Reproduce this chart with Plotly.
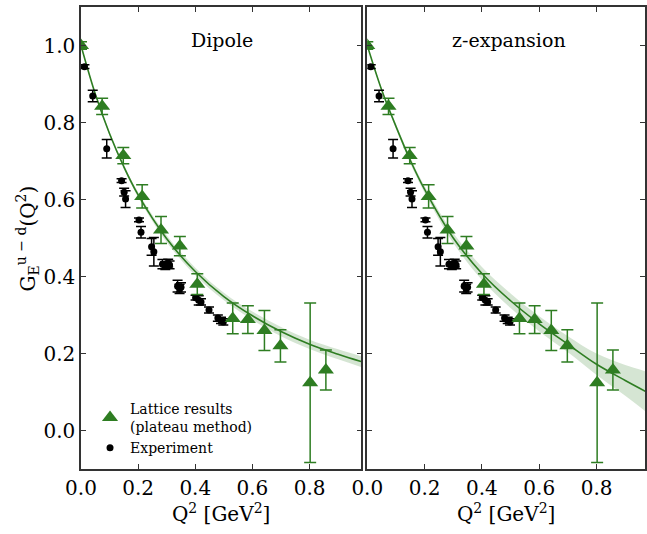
import plotly.graph_objects as go

# ---------------- data ----------------
# Lattice results (plateau method)
lat_q2 = [0.0, 0.074, 0.148, 0.214, 0.280, 0.346, 0.407, 0.531, 0.584, 0.642, 0.698, 0.802, 0.857]
lat_g = [1.000, 0.842, 0.714, 0.608, 0.521, 0.479, 0.380, 0.291, 0.288, 0.260, 0.220, 0.124, 0.157]
lat_err = [0.010, 0.021, 0.021, 0.030, 0.035, 0.025, 0.027, 0.040, 0.036, 0.052, 0.042, 0.207, 0.052]

# Experiment
exp_q2 = [0.012, 0.041, 0.090, 0.142, 0.151, 0.156, 0.203, 0.210, 0.247, 0.255,
          0.285, 0.295, 0.305, 0.310, 0.338, 0.345, 0.350, 0.401, 0.412, 0.420,
          0.448, 0.479, 0.490, 0.498]
exp_g = [0.945, 0.869, 0.732, 0.649, 0.619, 0.601, 0.547, 0.515, 0.477, 0.464,
         0.432, 0.428, 0.435, 0.430, 0.375, 0.368, 0.372, 0.345, 0.338, 0.334,
         0.313, 0.292, 0.286, 0.282]
exp_err = [0.005, 0.015, 0.024, 0.005, 0.010, 0.022, 0.005, 0.015, 0.022, 0.037,
           0.012, 0.010, 0.010, 0.010, 0.015, 0.012, 0.012, 0.006, 0.012, 0.008,
           0.008, 0.008, 0.008, 0.008]

# Dipole fit curve and band half-width
dip_q2 = [0.0, 0.05, 0.10, 0.15, 0.20, 0.30, 0.40, 0.50, 0.60, 0.70, 0.80, 0.90, 0.98]
dip_g = [1.000, 0.874, 0.771, 0.685, 0.612, 0.498, 0.413, 0.348, 0.298, 0.257, 0.224, 0.198, 0.179]
dip_band = [0.000, 0.003, 0.005, 0.006, 0.007, 0.009, 0.010, 0.010, 0.011, 0.012, 0.012, 0.013, 0.014]

# z-expansion fit curve and band half-width
zex_q2 = [0.0, 0.05, 0.10, 0.15, 0.20, 0.30, 0.40, 0.50, 0.60, 0.70, 0.80, 0.90, 0.97]
zex_g = [1.000, 0.885, 0.790, 0.702, 0.626, 0.500, 0.408, 0.337, 0.277, 0.224, 0.172, 0.130, 0.102]
zex_band = [0.000, 0.004, 0.006, 0.008, 0.009, 0.013, 0.017, 0.019, 0.020, 0.021, 0.028, 0.040, 0.052]

y_ticks = [0.0, 0.2, 0.4, 0.6, 0.8, 1.0]
x_ticks = [0.0, 0.2, 0.4, 0.6, 0.8]
panel_titles = ["Dipole", "z-expansion"]

# ---------------- style ----------------
GREEN = "#2e7d22"
BAND = "rgba(46,125,34,0.2)"
AXC = "#333333"
FONT = "DejaVu Serif"

fig = go.Figure()

panels = [
    ("x", "y", dip_q2, dip_g, dip_band, True),
    ("x2", "y2", zex_q2, zex_g, zex_band, False),
]

for xa, ya, cq, cg, cb, show_leg in panels:
    up = [g + b for g, b in zip(cg, cb)]
    lo = [g - b for g, b in zip(cg, cb)]
    fig.add_trace(go.Scatter(x=cq, y=up, xaxis=xa, yaxis=ya, mode="lines",
                             line=dict(width=0, shape="spline"), showlegend=False,
                             hoverinfo="skip"))
    fig.add_trace(go.Scatter(x=cq, y=lo, xaxis=xa, yaxis=ya, mode="lines",
                             line=dict(width=0, shape="spline"), fill="tonexty",
                             fillcolor=BAND, showlegend=False, hoverinfo="skip"))
    fig.add_trace(go.Scatter(x=cq, y=cg, xaxis=xa, yaxis=ya, mode="lines",
                             line=dict(color=GREEN, width=1.6, shape="spline"),
                             showlegend=False))
    fig.add_trace(go.Scatter(
        x=exp_q2, y=exp_g, xaxis=xa, yaxis=ya, mode="markers",
        name="Experiment", showlegend=show_leg, legendrank=2,
        marker=dict(symbol="circle", size=7, color="black"),
        error_y=dict(type="data", array=exp_err, color="black", thickness=1.5, width=5)))
    fig.add_trace(go.Scatter(
        x=lat_q2, y=lat_g, xaxis=xa, yaxis=ya, mode="markers",
        name="Lattice results<br>(plateau method)", showlegend=show_leg, legendrank=1,
        marker=dict(symbol="triangle-up", size=14, color=GREEN),
        error_y=dict(type="data", array=lat_err, color=GREEN, thickness=1.5, width=6)))

axis_common = dict(showline=True, linecolor=AXC, linewidth=1.5, ticks="inside",
                   ticklen=5, tickwidth=1, tickcolor=AXC, showgrid=False,
                   zeroline=False, tickfont=dict(family=FONT, size=20, color="black"))

L_DOM = [0.0, 0.497]
R_DOM = [0.5076, 1.0]

fig.update_layout(
    width=647, height=534,
    margin=dict(l=81, r=0, t=7, b=65),
    plot_bgcolor="white", paper_bgcolor="white",
    font=dict(family=FONT, color="black"),
    xaxis=dict(domain=L_DOM, range=[0, 0.981], tickvals=x_ticks, tickformat=".1f",
               mirror="ticks", anchor="y",
               title=dict(text="Q<sup>2</sup> [GeV<sup>2</sup>]", standoff=8,
                          font=dict(family=FONT, size=20)),
               **axis_common),
    xaxis2=dict(domain=R_DOM, range=[0, 0.969], tickvals=x_ticks, tickformat=".1f",
                mirror="ticks", anchor="y2",
                title=dict(text="Q<sup>2</sup> [GeV<sup>2</sup>]", standoff=8,
                           font=dict(family=FONT, size=20)),
                **axis_common),
    yaxis=dict(range=[-0.1, 1.1], tickvals=y_ticks, tickformat=".1f", mirror="ticks",
               anchor="x", **axis_common),
    yaxis2=dict(range=[-0.1, 1.1], tickvals=y_ticks, tickformat=".1f", mirror="ticks",
                anchor="x2", matches="y", showticklabels=False, **axis_common),
    legend=dict(x=0.016, y=0.165, xanchor="left", yanchor="top",
                bgcolor="rgba(0,0,0,0)", font=dict(family=FONT, size=14),
                tracegroupgap=4, itemwidth=30, traceorder="normal"),
    showlegend=True,
)

fig.add_annotation(text=panel_titles[0], xref="x", yref="y", x=0.492, y=1.014,
                   showarrow=False, font=dict(family=FONT, size=19))
fig.add_annotation(text=panel_titles[1], xref="x2", yref="y2", x=0.493, y=1.014,
                   showarrow=False, font=dict(family=FONT, size=19))
fig.add_annotation(text="G<sub>E</sub><sup>u − d</sup>(Q<sup>2</sup>)",
                   xref="paper", yref="paper", x=-0.095, y=0.50, textangle=-90,
                   xanchor="center", yanchor="middle",
                   showarrow=False, font=dict(family=FONT, size=20))

fig.write_html("out.html", config={"displayModeBar": False},
               post_script="document.body.style.margin='0px';")
